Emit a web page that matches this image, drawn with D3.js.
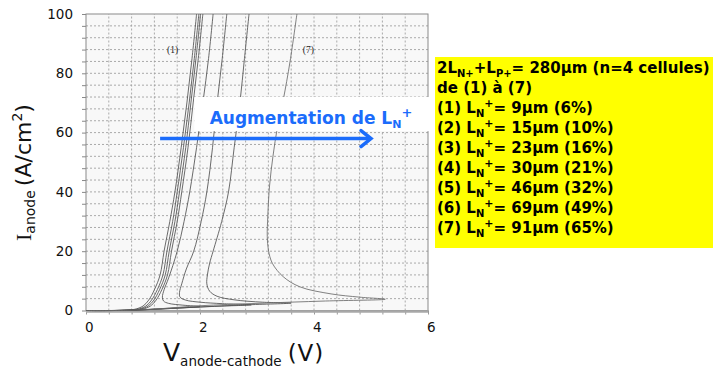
<!DOCTYPE html>
<html>
<head>
<meta charset="utf-8">
<script src="https://cdn.jsdelivr.net/npm/d3@7"></script>
<style>
  html, body { margin: 0; padding: 0; background: #fff; }
  svg { display: block; }
</style>
</head>
<body>
<svg id="chart" width="713" height="370"></svg>
<script>
// I(V) characteristics of the cells, [V anode-cathode (V), I anode (A/cm²)]
const curve1 = [[0,0],[0.6,0.05],[0.85,0.4],[1.0,1.5],[1.1,3.5],[1.2,7],[1.3,12],[1.37,20],[1.47,30],[1.56,40],[1.67,55],[1.77,70],[1.86,85],[1.94,100]];
const curve2 = [[0,0],[0.62,0.05],[0.9,0.4],[1.05,1.5],[1.15,3.5],[1.25,7],[1.35,12],[1.42,20],[1.52,30],[1.6,40],[1.71,55],[1.81,70],[1.9,85],[1.98,100]];
const curve3 = [[0,0],[0.65,0.05],[0.94,0.4],[1.09,1.5],[1.19,3.5],[1.29,7],[1.39,12],[1.46,20],[1.56,30],[1.64,40],[1.75,55],[1.84,70],[1.93,85],[2.01,100]];
const curve4 = [[0,0],[0.68,0.05],[0.98,0.4],[1.13,1.5],[1.23,3.5],[1.33,7],[1.43,12],[1.5,20],[1.6,30],[1.68,40],[1.79,55],[1.88,70],[1.97,85],[2.05,100]];
const curve5 = [[0,0],[0.7,0.05],[1.1,0.35],[1.5,0.8],[2.0,1.3],[1.7,1.8],[1.45,2.4],[1.36,3.2],[1.34,4.5],[1.37,7],[1.45,11],[1.6,20],[1.72,30],[1.82,40],[1.94,55],[2.05,70],[2.15,85],[2.23,100]];
const curve6 = [[0,0],[0.7,0.05],[1.2,0.4],[1.8,1.0],[2.4,1.5],[2.9,1.9],[2.4,2.3],[2.0,2.8],[1.75,3.5],[1.65,4.5],[1.64,6],[1.68,9],[1.76,14],[1.89,20],[2.02,30],[2.12,40],[2.22,55],[2.3,70],[2.39,85],[2.47,100]];
const curve7 = [[0,0],[0.7,0.05],[1.3,0.5],[2.0,1.2],[2.8,1.9],[3.6,2.5],[3.1,2.8],[2.6,3.6],[2.3,4.8],[2.17,6.5],[2.12,9],[2.13,12],[2.17,16],[2.23,20],[2.38,30],[2.5,40],[2.6,55],[2.7,70],[2.78,85],[2.86,100]];
const curve8 = [[0,0],[0.7,0.05],[1.3,0.6],[2.0,1.6],[3.0,2.4],[4.2,3.2],[5.25,3.8],[4.8,4.5],[4.3,5.6],[3.75,8],[3.46,11.4],[3.27,15.9],[3.2,20.4],[3.18,25],[3.19,32],[3.22,42],[3.28,52],[3.36,62],[3.46,71],[3.58,84],[3.7,100]];
const curves = [curve1, curve2, curve3, curve4, curve5, curve6, curve7, curve8];

// Axis ticks and grid steps
const xTicks = [0, 2, 4, 6];
const yTicks = [0, 20, 40, 60, 80, 100];
const xGridStep = 0.4;
const yGridStep = 4;

// Curve tags on the plot: [label, V, I]
const curveTags = [["(1)", 1.52, 87], ["(7)", 3.9, 87]];

// Legend text
const legendHead = "2L";
const legendSub1 = "N+";
const legendMid = "+L";
const legendSub2 = "P+";
const legendTail = "= 280µm (n=4 cellules)";
const legendLine2 = "de (1) à (7)";
const cellIds = ["(1)", "(2)", "(3)", "(4)", "(5)", "(6)", "(7)"];
const cellLengths = [9, 15, 23, 30, 46, 69, 91];
const cellShares = [6, 10, 16, 21, 32, 49, 65];

// Annotation: arrow from V=1.3 to V=5.0 at I=58
const arrowV = [1.3, 5.0];
const arrowI = 58;

const svg = d3.select("#chart");
const sans = "'DejaVu Sans',Verdana,sans-serif";
const bold = "'DejaVu Sans',Verdana,sans-serif";
const blue = "#1b6cfb";

const x = d3.scaleLinear().domain([0, 6]).range([86, 428]);
const y = d3.scaleLinear().domain([0, 100]).range([310.5, 14]);

// Plot background
svg.append("rect")
  .attr("x", x(0)).attr("y", y(100))
  .attr("width", x(6) - x(0)).attr("height", y(0) - y(100))
  .attr("fill", "#f8f8f8");

// Dotted grid
const gx = d3.range(0, 6 + 1e-6, xGridStep);
const gy = d3.range(0, 100 + 1e-6, yGridStep);
const grid = svg.append("g").attr("stroke", "#a0a0a0").attr("stroke-width", 0.9).attr("stroke-dasharray", "2,2");
grid.selectAll("line.v").data(gx.slice(1, -1)).join("line")
  .attr("x1", d => x(d)).attr("x2", d => x(d)).attr("y1", y(0)).attr("y2", y(100));
grid.selectAll("line.h").data(gy.slice(1, -1)).join("line")
  .attr("y1", d => y(d)).attr("y2", d => y(d)).attr("x1", x(0)).attr("x2", x(6));

// Small tick marks on the frame
svg.append("g").attr("transform", `translate(${x(0)},0)`)
  .call(d3.axisLeft(y).tickValues(gy).tickSize(4).tickFormat(""))
  .call(g => g.select(".domain").remove())
  .selectAll("line").attr("stroke", "#888");
svg.append("g").attr("transform", `translate(0,${y(0)})`)
  .call(d3.axisBottom(x).tickValues(gx).tickSize(4).tickFormat(""))
  .call(g => g.select(".domain").remove())
  .selectAll("line").attr("stroke", "#999");

// Frame
svg.append("rect")
  .attr("x", x(0)).attr("y", y(100))
  .attr("width", x(6) - x(0)).attr("height", y(0) - y(100))
  .attr("fill", "none").attr("stroke", "#8a8a8a").attr("stroke-width", 1);
svg.append("line")
  .attr("x1", x(0)).attr("x2", x(6)).attr("y1", y(0) + 1).attr("y2", y(0) + 1)
  .attr("stroke", "#a8a8a8").attr("stroke-width", 2.6);

// Curves
svg.append("clipPath").attr("id", "plotclip").append("rect")
  .attr("x", x(0)).attr("y", y(100)).attr("width", x(6) - x(0)).attr("height", y(0) - y(100) + 1);
const line = d3.line().x(d => x(d[0])).y(d => y(d[1])).curve(d3.curveCatmullRom.alpha(0.5));
svg.append("g").attr("clip-path", "url(#plotclip)")
  .selectAll("path").data(curves).join("path")
  .attr("d", line)
  .attr("fill", "none")
  .attr("stroke", (d, i) => i === 7 ? "#6a6a6a" : "#505050")
  .attr("stroke-width", 0.85);

// Curve tags
svg.selectAll("text.tag").data(curveTags).join("text")
  .attr("class", "tag")
  .attr("x", d => x(d[1])).attr("y", d => y(d[2]))
  .attr("text-anchor", "middle")
  .attr("font-family", "'Liberation Serif','Times New Roman',serif")
  .attr("font-size", 9.5).attr("fill", "#222")
  .text(d => d[0]);

// Tick labels
const yAxis = svg.append("g").attr("transform", `translate(${x(0)},0)`)
  .call(d3.axisLeft(y).tickValues(yTicks).tickSize(0).tickPadding(13));
yAxis.select(".domain").remove();
yAxis.selectAll("text").attr("font-family", sans).attr("font-size", 13.5).attr("fill", "#111");

const xAxis = svg.append("g").attr("transform", `translate(0,${y(0)})`)
  .call(d3.axisBottom(x).tickValues(xTicks).tickFormat(d3.format("d")).tickSize(0).tickPadding(12));
xAxis.select(".domain").remove();
xAxis.selectAll("text").attr("font-family", sans).attr("font-size", 13.5).attr("fill", "#111")
  .attr("dx", "0.2em");

// Axis titles
const xt = svg.append("text").attr("x", 163).attr("y", 361)
  .attr("font-family", sans).attr("fill", "#111");
xt.append("tspan").attr("font-size", 25).text("V");
xt.append("tspan").attr("font-size", 13.5).attr("dy", 5).text("anode-cathode");
xt.append("tspan").attr("font-size", 23).attr("dy", -5).attr("dx", 6).attr("letter-spacing", 1).text("(V)");

const yt = svg.append("text").attr("transform", "translate(31,241) rotate(-90)")
  .attr("font-family", sans).attr("fill", "#111");
yt.append("tspan").attr("font-family", "'Liberation Serif','Times New Roman',serif").attr("font-size", 22).text("I");
yt.append("tspan").attr("font-size", 14).attr("dy", 4).text("anode");
yt.append("tspan").attr("font-size", 22).attr("dy", -4).attr("dx", 4).text("(A/cm");
yt.append("tspan").attr("font-size", 14).attr("dy", -9).text("2");
yt.append("tspan").attr("font-size", 22).attr("dy", 9).text(")");

// Annotation box, text and arrow
svg.append("rect")
  .attr("x", x(1.9)).attr("y", y(72))
  .attr("width", x(6.07) - x(1.9)).attr("height", y(60.5) - y(72))
  .attr("fill", "#fff");
const at = svg.append("text").attr("x", x(2.17)).attr("y", y(63))
  .attr("font-family", bold).attr("font-weight", "bold").attr("font-size", 17).attr("fill", blue);
at.append("tspan").text("Augmentation de L");
at.append("tspan").attr("font-size", 11).attr("dy", 4).text("N");
at.append("tspan").attr("font-size", 13).attr("dy", -11).text("+");

svg.append("line")
  .attr("x1", x(arrowV[0])).attr("x2", x(arrowV[1]) - 2)
  .attr("y1", y(arrowI)).attr("y2", y(arrowI))
  .attr("stroke", blue).attr("stroke-width", 3.5);
svg.append("path")
  .attr("d", `M${x(arrowV[1]) - 10},${y(arrowI) - 8} L${x(arrowV[1])},${y(arrowI)} L${x(arrowV[1]) - 10},${y(arrowI) + 8}`)
  .attr("fill", "none").attr("stroke", blue).attr("stroke-width", 3.5)
  .attr("stroke-linecap", "round").attr("stroke-linejoin", "miter");

// Legend panel
const lg = svg.append("g").attr("transform", "translate(435,57)");
lg.append("rect").attr("width", 278).attr("height", 191).attr("fill", "#ffff00");
const lx = 2, ly0 = 16, lstep = 20;
const t1 = lg.append("text").attr("x", lx).attr("y", ly0)
  .attr("font-family", bold).attr("font-weight", "bold").attr("font-size", 15).attr("fill", "#000");
t1.append("tspan").text(legendHead);
t1.append("tspan").attr("font-size", 10).attr("dy", 4).text(legendSub1);
t1.append("tspan").attr("dy", -4).text(legendMid);
t1.append("tspan").attr("font-size", 10).attr("dy", 4).text(legendSub2);
t1.append("tspan").attr("dy", -4).text(legendTail);
lg.append("text").attr("x", lx).attr("y", ly0 + lstep)
  .attr("font-family", bold).attr("font-weight", "bold").attr("font-size", 15).attr("fill", "#000")
  .text(legendLine2);
cellIds.forEach((id, i) => {
  const t = lg.append("text").attr("x", lx).attr("y", ly0 + lstep * (i + 2))
    .attr("font-family", bold).attr("font-weight", "bold").attr("font-size", 15).attr("fill", "#000");
  t.append("tspan").text(id + " L");
  t.append("tspan").attr("font-size", 10).attr("dy", 4).text("N");
  t.append("tspan").attr("font-size", 11).attr("dy", -10).text("+");
  t.append("tspan").attr("dy", 6).text(`= ${cellLengths[i]}µm (${cellShares[i]}%)`);
});
</script>
</body>
</html>
